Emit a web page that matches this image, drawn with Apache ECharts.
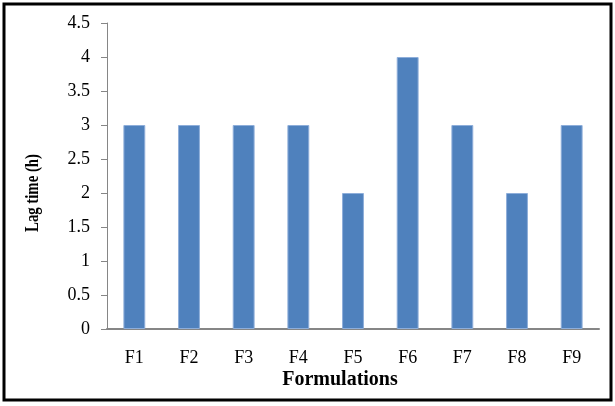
<!DOCTYPE html>
<html>
<head>
<meta charset="utf-8">
<script src="https://cdn.jsdelivr.net/npm/echarts@6/dist/echarts.min.js"></script>
<style>html,body{margin:0;padding:0;background:#fff}#c{width:615px;height:406px}</style>
</head>
<body>
<div id="c"></div>
<script>
var categories = ['F1','F2','F3','F4','F5','F6','F7','F8','F9'];
var lagTime = [3,3,3,3,2,4,3,2,3];
var yTicks = [0,0.5,1,1.5,2,2.5,3,3.5,4,4.5];
var xTitle = 'Formulations';
var yTitle = 'Lag time (h)';

var chart = echarts.init(document.getElementById('c'), null, {renderer:'canvas'});
var serif = '"Liberation Serif","Times New Roman",serif';
chart.setOption({
  animation:false,
  grid:{left:107, right:16, top:23, bottom:77},
  xAxis:{
    type:'category', data:categories,
    axisLine:{lineStyle:{color:'#868686', width:2}},
    axisTick:{length:5, lineStyle:{color:'#868686', width:2}},
    axisLabel:{color:'#000', fontFamily:serif, fontSize:18, margin:20}
  },
  yAxis:{
    type:'value', min:0, max:4.5, interval:0.5,
    axisLine:{show:true, lineStyle:{color:'#868686', width:1}},
    axisTick:{show:true, length:6, lineStyle:{color:'#868686'}},
    splitLine:{show:false},
    axisLabel:{color:'#000', fontFamily:serif, fontSize:18, margin:17,
      formatter:function(v){ return yTicks.indexOf(v) >= 0 ? String(v) : ''; }}
  },
  series:[{
    type:'bar', data:lagTime, barWidth:'40%',
    itemStyle:{color:'#4F81BD', borderColor:'#8EAEDA', borderWidth:1}
  }],
  graphic:[
    {type:'rect', shape:{x:4, y:4, width:607, height:396}, style:{fill:'none', stroke:'#000', lineWidth:3}, z:10},
    {type:'text', x:340, y:380, style:{text:xTitle, font:'bold 20px ' + serif, fill:'#000', textAlign:'center', textVerticalAlign:'middle'}},
    {type:'text', x:33, y:193, rotation:Math.PI/2, scaleX:0.82, style:{text:yTitle, font:'bold 18px ' + serif, fill:'#000', textAlign:'center', textVerticalAlign:'middle'}}
  ]
});
</script>
</body>
</html>
